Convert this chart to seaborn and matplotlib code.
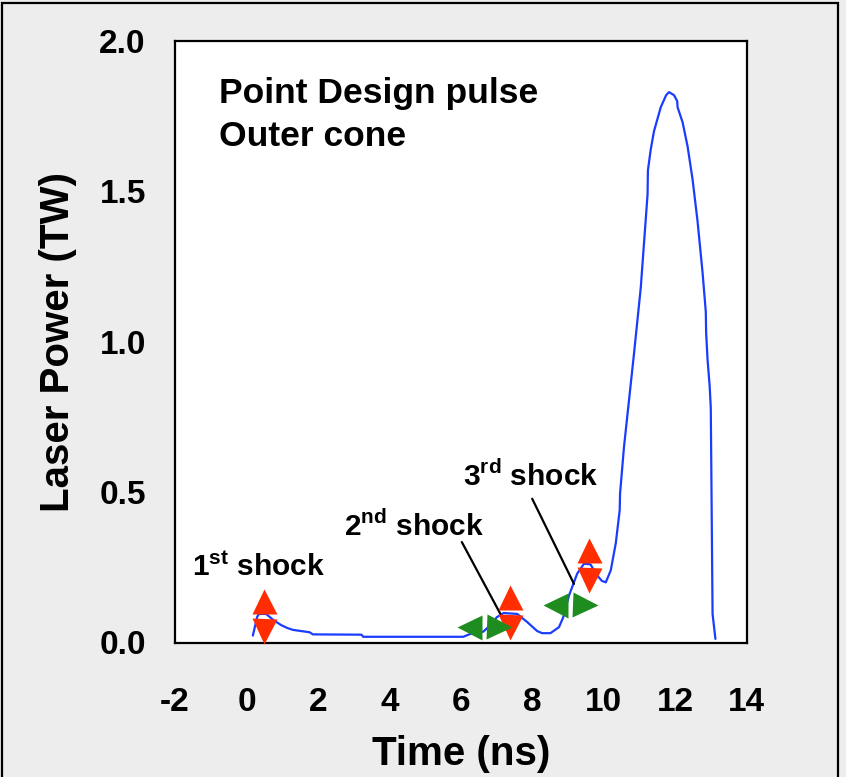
import numpy as np
import pandas as pd
import seaborn as sns
import matplotlib
matplotlib.use("Agg")
import matplotlib.pyplot as plt
from matplotlib.transforms import offset_copy
from matplotlib.patches import Rectangle
from matplotlib.ticker import MultipleLocator

# ---------------- data ----------------
time_ns = [0.18, 0.30, 0.35, 0.55, 0.75, 0.97, 1.15, 1.30, 1.77, 1.86, 3.22, 3.27,
           6.07, 6.30, 6.63, 6.85, 7.01, 7.20, 7.58, 7.86, 8.14, 8.28, 8.51, 8.75,
           8.87, 9.03, 9.26, 9.45, 9.63, 9.82, 9.95, 10.06, 10.20, 10.34, 10.45,
           10.46, 10.57, 10.71, 10.85, 11.04, 11.23, 11.24, 11.32, 11.41, 11.60,
           11.75, 11.83, 11.97, 12.06, 12.07, 12.21, 12.35, 12.49, 12.63, 12.77,
           12.86, 12.87, 12.91, 12.97, 13.00, 13.05, 13.13]
power_tw = [0.023, 0.085, 0.095, 0.095, 0.075, 0.058, 0.048, 0.042, 0.034, 0.027, 0.026, 0.019,
            0.019, 0.030, 0.036, 0.060, 0.084, 0.098, 0.095, 0.068, 0.038, 0.031, 0.031, 0.051,
            0.084, 0.156, 0.229, 0.262, 0.260, 0.223, 0.205, 0.200, 0.240, 0.330, 0.440,
            0.495, 0.650, 0.805, 0.960, 1.180, 1.490, 1.570, 1.640, 1.700, 1.780,
            1.820, 1.830, 1.820, 1.800, 1.780, 1.730, 1.650, 1.540, 1.400, 1.230,
            1.100, 1.030, 0.940, 0.850, 0.780, 0.095, 0.012]

# shock timing markers
red_t = [0.48, 7.39, 9.59]
red_p = [0.088, 0.101, 0.259]
green_t = [6.64, 9.05]
green_p = [0.050, 0.125]

# callout lines (start, end)
line_t = [[6.03, 7.11], [8.00, 9.17]]
line_p = [[0.334, 0.095], [0.478, 0.195]]

# labels
shock_labels = [r"1$^{\mathbf{st}}$ shock", r"2$^{\mathbf{nd}}$ shock", r"3$^{\mathbf{rd}}$ shock"]
shock_t = [-1.52, 2.73, 6.05]
shock_p = [0.220, 0.353, 0.522]
title_lines = ["Point Design pulse", "Outer cone"]
title_t = [-0.76, -0.76]
title_p = [1.795, 1.650]

xticks = [-2, 0, 2, 4, 6, 8, 10, 12, 14]
yticks = [0.0, 0.5, 1.0, 1.5, 2.0]

# ---------------- style ----------------
sns.set_style("white")
plt.rcParams["font.family"] = ["Liberation Sans", "DejaVu Sans"]
plt.rcParams["font.weight"] = "bold"
plt.rcParams["axes.unicode_minus"] = False
plt.rcParams["mathtext.fontset"] = "custom"
plt.rcParams["mathtext.bf"] = "Liberation Sans:bold"
plt.rcParams["mathtext.rm"] = "Liberation Sans:bold"
for k in ["text.color", "axes.labelcolor", "xtick.color", "ytick.color", "axes.edgecolor"]:
    plt.rcParams[k] = "black"

BG = "#ededed"
fig = plt.figure(figsize=(8.46, 7.77), dpi=100, facecolor=BG)
ax = fig.add_axes([175 / 846, 1 - 642.5 / 777, (746.5 - 175) / 846, (642.5 - 41) / 777])
ax.set_facecolor("white")

# outer border
fig.patches.append(Rectangle((2 / 846, -0.05), (836 / 846), 1.05 - 2.5 / 777,
                             transform=fig.transFigure, fill=False,
                             edgecolor="black", linewidth=1.6, zorder=0))

df = pd.DataFrame({"t": time_ns, "p": power_tw})
sns.lineplot(data=df, x="t", y="p", sort=False, estimator=None, ax=ax,
             color="#1a3cff", linewidth=1.6, zorder=2)

# callout lines
for lt, lp in zip(line_t, line_p):
    ax.plot(lt, lp, color="black", linewidth=1.6, zorder=3)

MS = 18
OFF = 15
# red vertical double arrows
up = offset_copy(ax.transData, fig=fig, x=0, y=OFF, units="dots")
dn = offset_copy(ax.transData, fig=fig, x=0, y=-OFF, units="dots")
ax.plot(red_t, red_p, linestyle="none", marker="^", ms=MS, color="#ff2d00",
        mec="none", transform=up, zorder=4, clip_on=False)
ax.plot(red_t, red_p, linestyle="none", marker="v", ms=MS, color="#ff2d00",
        mec="none", transform=dn, zorder=4, clip_on=False)

# green horizontal double arrows
lf = offset_copy(ax.transData, fig=fig, x=-OFF, y=0, units="dots")
rt = offset_copy(ax.transData, fig=fig, x=OFF, y=0, units="dots")
ax.plot(green_t, green_p, linestyle="none", marker="<", ms=MS, color="#1f8c1f",
        mec="none", transform=lf, zorder=4)
ax.plot(green_t, green_p, linestyle="none", marker=">", ms=MS, color="#1f8c1f",
        mec="none", transform=rt, zorder=4)

# texts
for s, x, y in zip(shock_labels, shock_t, shock_p):
    ax.text(x, y, s, fontsize=21.5, fontweight="bold", ha="left", va="baseline",
            color="black", zorder=5)
for s, x, y in zip(title_lines, title_t, title_p):
    ax.text(x, y, s, fontsize=25.5, fontweight="bold", ha="left", va="baseline",
            color="black", zorder=5)

# axes
ax.set_xlim(-2, 14)
ax.set_ylim(0, 2)
ax.set_xticks(xticks)
ax.set_xticklabels([f"{v:d}" for v in xticks])
ax.set_yticks(yticks)
ax.set_yticklabels([f"{v:.1f}" for v in yticks])
ax.xaxis.set_minor_locator(MultipleLocator(1))
ax.yaxis.set_minor_locator(MultipleLocator(0.25))
ax.tick_params(axis="both", which="major", direction="in", length=8.5, width=1.5,
               labelsize=24, colors="black")
ax.tick_params(axis="both", which="minor", direction="in", length=6, width=1.5,
               colors="black")
ax.tick_params(axis="x", which="major", pad=32)
ax.tick_params(axis="y", which="major", pad=21)
for lab in ax.get_xticklabels() + ax.get_yticklabels():
    lab.set_fontweight("bold")
for sp in ax.spines.values():
    sp.set_visible(True)
    sp.set_color("black")
    sp.set_linewidth(1.6)

ax.set_xlabel("Time (ns)", fontsize=29, fontweight="bold", labelpad=12, color="black")
ax.set_ylabel("Laser Power (TW)", fontsize=29, fontweight="bold", labelpad=16, color="black")

fig.savefig("out.png", dpi=100, facecolor=BG)
